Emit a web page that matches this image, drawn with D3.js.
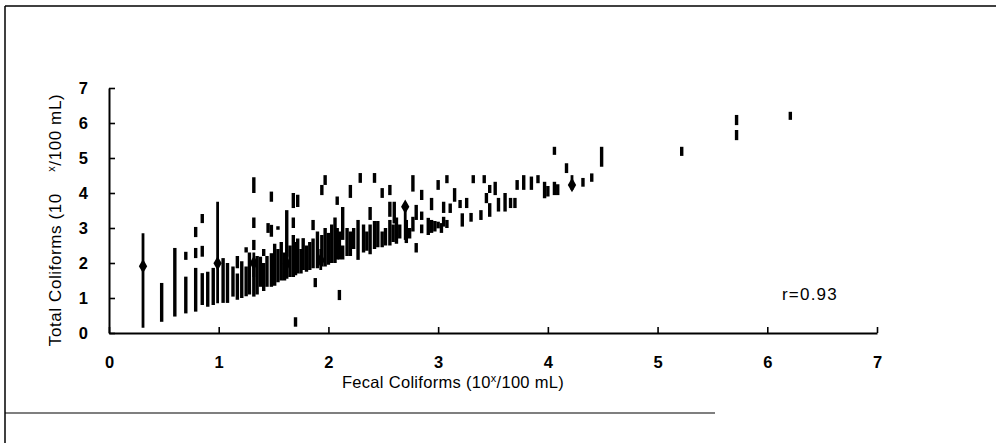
<!DOCTYPE html>
<html><head><meta charset="utf-8">
<script src="https://cdn.jsdelivr.net/npm/d3@7"></script>
<style>
html,body{margin:0;padding:0;background:#fff;}
svg{display:block;}
text{font-family:"Liberation Sans",Arial,sans-serif;fill:#000;}
</style></head>
<body>
<svg id="chart" width="996" height="443"></svg>
<script>
// ---- data ----
const xTicks = [0,1,2,3,4,5,6,7];
const yTicks = [0,1,2,3,4,5,6,7];
const xTitle = "Fecal Coliforms (10";
const yTitle = "Total Coliforms (10";
const rLabel = "r=0.93";
// individual observations drawn as short vertical marks: [fecal, totalLow, totalHigh]
const dashes = [
[0.48,0.32,1.43],[0.60,0.47,2.43],
[0.70,2.09,2.32],[0.70,0.56,1.61],
[0.79,2.74,3.03],[0.79,2.14,2.43],[0.79,0.61,1.86],
[0.85,3.14,3.40],[0.85,2.18,2.49],[0.85,0.80,1.71],
[0.90,0.75,1.75],[0.95,0.80,1.86],
[1.04,0.86,2.14],[1.08,0.86,2.00],[1.13,1.04,1.90],
[1.17,0.95,1.70],[1.17,1.85,2.20],[1.21,1.00,2.05],
[1.25,1.05,1.90],[1.25,2.30,2.45],[1.28,1.10,2.30],
[1.32,4.00,4.45],[1.32,3.00,3.30],[1.32,2.37,2.66],[1.32,1.04,2.10],
[1.35,1.10,2.20],[1.38,1.32,2.18],[1.41,1.20,2.00],[1.41,2.20,2.40],
[1.44,1.32,2.20],[1.45,2.86,3.14],
[1.48,3.75,4.04],[1.48,2.75,3.09],[1.48,1.32,2.28],
[1.51,1.35,2.55],[1.54,2.95,3.05],[1.54,1.45,2.40],
[1.57,1.50,2.60],[1.60,1.50,2.30],[1.62,2.18,3.51],[1.62,1.55,2.10],
[1.65,1.60,2.50],[1.68,3.57,4.00],[1.68,3.00,3.30],[1.68,1.60,2.80],
[1.70,0.18,0.45],[1.70,1.65,2.60],[1.72,3.60,3.95],[1.72,1.70,2.70],
[1.75,1.70,2.40],[1.77,1.80,2.71],[1.80,1.75,2.50],[1.83,1.80,2.60],
[1.86,2.94,3.23],[1.86,1.85,2.70],[1.88,1.31,1.57],[1.90,1.85,2.90],
[1.94,3.94,4.23],[1.94,1.90,2.80],[1.97,4.23,4.51],[1.97,1.90,3.00],
[2.00,1.95,2.86],[2.03,2.00,3.10],[2.06,2.00,3.30],
[2.08,3.66,3.90],[2.08,2.10,3.00],[2.10,0.94,1.23],[2.10,2.10,2.90],
[2.13,2.66,3.60],[2.13,2.10,2.50],[2.17,2.20,3.00],
[2.20,3.86,4.23],[2.20,2.20,2.90],[2.23,2.40,3.00],[2.27,2.09,3.23],
[2.29,4.29,4.57],[2.32,2.30,3.10],[2.35,2.35,2.90],
[2.38,3.23,3.60],[2.38,2.25,3.10],[2.42,4.29,4.57],[2.42,2.40,3.20],
[2.45,2.45,3.20],[2.49,3.86,4.14],[2.49,2.45,2.90],[2.52,2.50,3.00],
[2.56,3.94,4.23],[2.56,3.32,3.75],[2.56,2.50,3.23],
[2.59,2.60,3.10],[2.60,3.13,3.75],[2.62,2.55,3.30],[2.65,2.70,3.10],
[2.71,2.57,3.23],[2.74,2.70,3.00],
[2.77,4.04,4.51],[2.77,2.90,3.32],[2.80,3.23,3.66],[2.80,2.30,2.57],
[2.85,3.80,4.09],[2.85,3.23,3.47],[2.85,2.85,3.10],
[2.91,2.80,3.29],[2.94,3.51,3.86],[2.94,2.86,3.23],[2.97,2.90,3.20],
[3.00,4.09,4.37],[3.00,2.99,3.18],[3.03,2.86,3.14],
[3.05,3.43,3.75],[3.05,3.04,3.32],[3.08,4.28,4.51],[3.08,3.00,3.23],
[3.11,3.43,3.70],[3.15,3.75,4.14],[3.20,3.57,3.80],[3.22,3.04,3.42],
[3.26,3.57,3.86],[3.30,3.18,3.43],[3.32,4.28,4.51],[3.39,3.23,3.51],
[3.42,4.28,4.51],[3.44,3.71,4.00],[3.47,4.00,4.23],[3.47,3.32,3.71],
[3.52,3.94,4.32],[3.55,3.47,3.86],[3.61,3.47,4.00],[3.66,3.57,3.86],
[3.70,3.57,3.86],[3.72,4.09,4.37],[3.78,4.09,4.51],[3.85,4.09,4.47],
[3.91,4.28,4.51],[3.97,3.85,4.32],[4.00,3.90,4.20],
[4.06,3.94,4.32],[4.06,5.09,5.32],[4.09,3.94,4.25],
[4.17,4.57,4.85],[4.32,4.18,4.43],[4.40,4.32,4.56],[4.49,4.75,5.32],
[5.22,5.06,5.32],[5.72,5.94,6.23],[5.72,5.51,5.80],[6.21,6.09,6.32]
];
// group means with ranges: [fecal, meanTotal, minTotal, maxTotal]
const means = [
[0.31,1.91,0.15,2.85],
[0.99,1.99,0.85,3.75],
[1.32,2.00,1.60,2.30],
[1.62,1.98,1.60,2.40],
[1.93,2.08,1.80,2.40],
[2.70,3.61,2.66,3.70],
[4.22,4.23,4.09,4.51]
];

// ---- drawing ----
const svg = d3.select("#chart");
// page frame
svg.append("line").attr("x1",5).attr("x2",996).attr("y1",6).attr("y2",6).attr("stroke","#000").attr("stroke-width",1.5);
svg.append("line").attr("x1",5).attr("x2",5).attr("y1",6).attr("y2",443).attr("stroke","#000").attr("stroke-width",1.5);
svg.append("line").attr("x1",5).attr("x2",715).attr("y1",413).attr("y2",413).attr("stroke","#000").attr("stroke-width",1.2);

const x = d3.scaleLinear().domain([0,7]).range([109,877]);
const y = d3.scaleLinear().domain([0,7]).range([333,88]);

const xAxis = d3.axisBottom(x).tickValues(xTicks).tickFormat(d3.format("d"))
  .tickSizeInner(-6).tickSizeOuter(0).tickPadding(25);
const yAxis = d3.axisLeft(y).tickValues(yTicks).tickFormat(d3.format("d"))
  .tickSizeInner(-6).tickSizeOuter(0).tickPadding(21);

const gx = svg.append("g").attr("transform",`translate(0,${y(0)})`).call(xAxis);
const gy = svg.append("g").attr("transform",`translate(${x(0)},0)`).call(yAxis);
[gx,gy].forEach(g=>{
  g.select(".domain").attr("stroke","#000").attr("stroke-width",2);
  g.selectAll(".tick line").attr("stroke","#000").attr("stroke-width",1.6);
  g.selectAll(".tick text").attr("font-family","'Liberation Sans',Arial,sans-serif")
    .attr("font-size",16.5).attr("font-weight","bold").attr("fill","#000");
});
gx.selectAll(".tick text").attr("dy","0.62em");

// observations
svg.append("g").selectAll("rect").data(dashes).join("rect")
  .attr("x",d=>x(d[0])-1.7).attr("width",3.4)
  .attr("y",d=>y(d[2])).attr("height",d=>y(d[1])-y(d[2]))
  .attr("fill","#000");

// means with range bars
const mg = svg.append("g");
mg.selectAll("line").data(means).join("line")
  .attr("x1",d=>x(d[0])).attr("x2",d=>x(d[0]))
  .attr("y1",d=>y(d[2])).attr("y2",d=>y(d[3]))
  .attr("stroke","#000").attr("stroke-width",2.8);
mg.selectAll("path").data(means).join("path")
  .attr("d",d3.symbol().type(d3.symbolDiamond).size(60))
  .attr("transform",d=>`translate(${x(d[0])},${y(d[1])})`)
  .attr("fill","#000");

// titles
const xt = svg.append("text").attr("x",453).attr("y",388).attr("text-anchor","middle")
  .attr("font-size",16.5).attr("letter-spacing",0.3);
xt.append("tspan").text(xTitle);
xt.append("tspan").attr("dy",-6).attr("font-size",11).text("x");
xt.append("tspan").attr("dy",6).text("/100 mL)");

const yt = svg.append("text").attr("transform","translate(61,220) rotate(-90)")
  .attr("text-anchor","middle").attr("font-size",17).attr("letter-spacing",0.6);
yt.append("tspan").text(yTitle + "\u00a0\u00a0\u00a0\u00a0");
yt.append("tspan").attr("dy",-6).attr("font-size",11).text("x");
yt.append("tspan").attr("dy",6).text("/100 mL)");

svg.append("text").attr("x",782).attr("y",300).attr("font-size",17).attr("letter-spacing",1.2).text(rLabel);
</script>
</body></html>
